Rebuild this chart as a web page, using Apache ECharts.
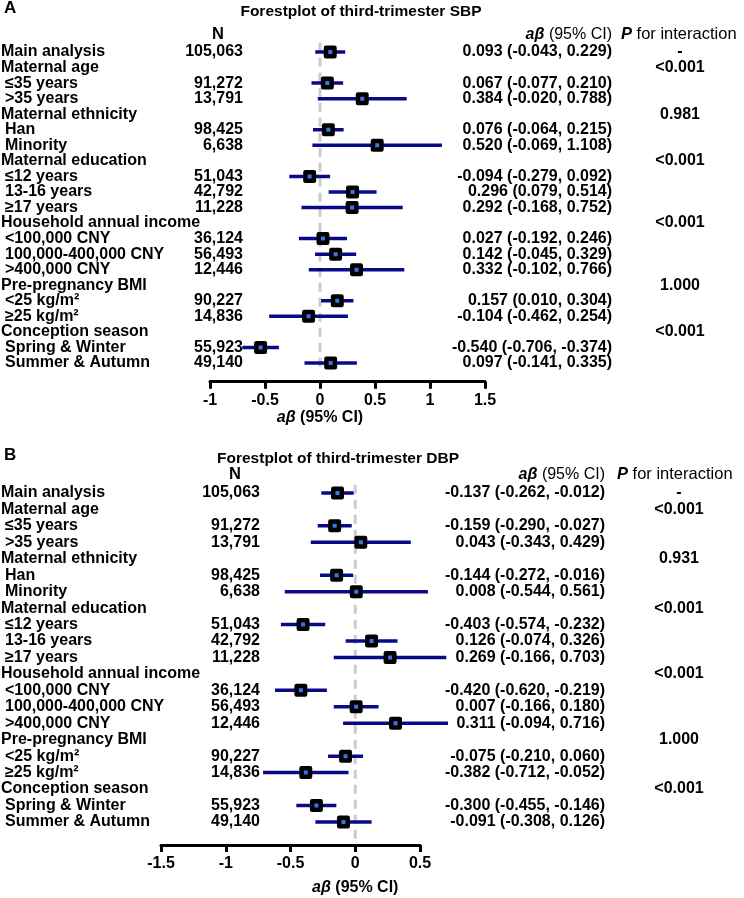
<!DOCTYPE html>
<html><head><meta charset="utf-8">
<script src="https://cdn.jsdelivr.net/npm/echarts@6/dist/echarts.min.js"></script>
<style>html,body{margin:0;padding:0;background:#fff}#c{width:744px;height:898px}</style>
</head><body><div id="c"></div>
<script>
const rowLabels = ["Main analysis","Maternal age","\u226435 years",">35 years","Maternal ethnicity","Han","Minority","Maternal education","\u226412 years","13-16 years","\u226517 years","Household annual income","<100,000 CNY","100,000-400,000 CNY",">400,000 CNY","Pre-pregnancy BMI","<25 kg/m\u00b2","\u226525 kg/m\u00b2","Conception season","Spring & Winter","Summer & Autumn"];
const rowIndent = [0,0,1,1,0,1,1,0,1,1,1,0,1,1,1,0,1,1,0,1,1];
const nCounts = ["105,063",null,"91,272","13,791",null,"98,425","6,638",null,"51,043","42,792","11,228",null,"36,124","56,493","12,446",null,"90,227","14,836",null,"55,923","49,140"];

const sbpEst  = [0.093,null,0.067,0.384,null,0.076,0.520,null,-0.094,0.296,0.292,null,0.027,0.142,0.332,null,0.157,-0.104,null,-0.540,0.097];
const sbpLow  = [-0.043,null,-0.077,-0.020,null,-0.064,-0.069,null,-0.279,0.079,-0.168,null,-0.192,-0.045,-0.102,null,0.010,-0.462,null,-0.706,-0.141];
const sbpHigh = [0.229,null,0.210,0.788,null,0.215,1.108,null,0.092,0.514,0.752,null,0.246,0.329,0.766,null,0.304,0.254,null,-0.374,0.335];
const sbpP = ["-","<0.001",null,null,"0.981",null,null,"<0.001",null,null,null,"<0.001",null,null,null,"1.000",null,null,"<0.001",null,null];
const sbpTicks = [-1,-0.5,0,0.5,1,1.5];

const dbpEst  = [-0.137,null,-0.159,0.043,null,-0.144,0.008,null,-0.403,0.126,0.269,null,-0.420,0.007,0.311,null,-0.075,-0.382,null,-0.300,-0.091];
const dbpLow  = [-0.262,null,-0.290,-0.343,null,-0.272,-0.544,null,-0.574,-0.074,-0.166,null,-0.620,-0.166,-0.094,null,-0.210,-0.712,null,-0.455,-0.308];
const dbpHigh = [-0.012,null,-0.027,0.429,null,-0.016,0.561,null,-0.232,0.326,0.703,null,-0.219,0.180,0.716,null,0.060,-0.052,null,-0.146,0.126];
const dbpP = ["-","<0.001",null,null,"0.931",null,null,"<0.001",null,null,null,"<0.001",null,null,null,"1.000",null,null,"<0.001",null,null];
const dbpTicks = [-1.5,-1,-0.5,0,0.5];

const FONT = "'Liberation Sans', Arial, Helvetica, sans-serif";
const FS = 16;
const NAVY = '#0a0a88';

const panels = [
  {est:sbpEst, low:sbpLow, high:sbpHigh, p:sbpP, ticks:sbpTicks,
   grid:{left:210, width:275, top:36.45, height:345.2}, yMax:21.2,
   nX:243, ciX:612, pX:680, nHeadX:218, pHeadX:621, headRow:-1.1, nameDy:36, zeroFrom:-0.6, zeroTo:20.6,
   title:"Forestplot of third-trimester SBP", titleX:361, titleY:12, letter:"A", letterY:8},
  {est:dbpEst, low:dbpLow, high:dbpHigh, p:dbpP, ticks:dbpTicks,
   grid:{left:161, width:259, top:476.5, height:368.5}, yMax:21.4,
   nX:260, ciX:605, pX:679, nHeadX:235, pHeadX:617, headRow:-1.1, nameDy:43, zeroFrom:-0.5, zeroTo:21.1,
   title:"Forestplot of third-trimester DBP", titleX:338, titleY:459, letter:"B", letterY:455}
];

function fmt(v){ return v.toFixed(3); }
function txt(x, y, text, align, extra){
  return {type:'text', x:x, y:y, style:Object.assign({text:text, fill:'#000', fontSize:FS, fontWeight:'bold', fontFamily:FONT, align:align, verticalAlign:'middle'}, extra||{})};
}

const grids=[], xAxes=[], yAxes=[], series=[], graphics=[];
panels.forEach((P, gi) => {
  grids.push(Object.assign({containLabel:false}, P.grid));
  xAxes.push({gridIndex:gi, type:'value', min:P.ticks[0], max:P.ticks[P.ticks.length-1], interval:P.ticks[1]-P.ticks[0],
    axisLine:{show:true, onZero:false, lineStyle:{color:'#000', width:3}},
    axisTick:{show:true, length:7, lineStyle:{color:'#000', width:3}},
    axisLabel:{color:'#000', fontSize:FS, fontWeight:'bold', fontFamily:FONT, margin:11},
    splitLine:{show:false}});
  yAxes.push({gridIndex:gi, type:'value', min:-1, max:P.yMax, inverse:true, show:false});

  // zero reference line
  series.push({type:'custom', xAxisIndex:gi, yAxisIndex:gi, silent:true, z:1,
    data:[[0, P.zeroFrom, P.zeroTo]],
    renderItem(params, api){
      const a = api.coord([api.value(0), api.value(1)]);
      const b = api.coord([api.value(0), api.value(2)]);
      return {type:'line', shape:{x1:a[0], y1:a[1], x2:b[0], y2:b[1]},
        style:{stroke:'#cccccc', lineWidth:3, lineDash:[9,6]}};
    }});
  // CI bars
  const ciData = [];
  P.est.forEach((e,i)=>{ if(e!==null) ciData.push([P.low[i], P.high[i], i]); });
  series.push({type:'custom', xAxisIndex:gi, yAxisIndex:gi, silent:true, z:2,
    data:ciData,
    renderItem(params, api){
      const a = api.coord([api.value(0), api.value(2)]);
      const b = api.coord([api.value(1), api.value(2)]);
      return {type:'line', shape:{x1:a[0], y1:a[1], x2:b[0], y2:b[1]},
        style:{stroke:NAVY, lineWidth:3.5}};
    }});
  // point estimates
  const ptData = [];
  P.est.forEach((e,i)=>{ if(e!==null) ptData.push([e, i]); });
  series.push({type:'scatter', xAxisIndex:gi, yAxisIndex:gi, silent:true, z:3,
    data:ptData, symbol:'rect', symbolSize:8.5,
    itemStyle:{color:'#3b74e8', borderColor:'#000', borderWidth:4.5, borderJoin:'round', opacity:1}});
  // text columns
  series.push({type:'custom', xAxisIndex:gi, yAxisIndex:gi, silent:true, z:4, clip:false,
    data:rowLabels.map((l,i)=>[0,i]),
    renderItem(params, api){
      const i = params.dataIndex;
      const y = api.coord([0, i])[1];
      const kids = [];
      kids.push(txt(rowIndent[i] ? 5 : 1, y, rowLabels[i], 'left'));
      if(nCounts[i] !== null){
        kids.push(txt(P.nX, y, nCounts[i], 'right'));
        kids.push(txt(P.ciX, y, fmt(P.est[i]) + ' (' + fmt(P.low[i]) + ', ' + fmt(P.high[i]) + ')', 'right'));
      }
      if(P.p[i]) kids.push(txt(P.pX, y, P.p[i], 'center'));
      if(i === 0){
        const hy = api.coord([0, P.headRow])[1];
        kids.push(txt(P.nHeadX, hy, 'N', 'center', {fontSize:16.5}));
        kids.push({type:'text', x:P.ciX, y:hy, style:{text:'{i|a\u03b2} (95% CI)', fill:'#000', fontSize:16, fontFamily:FONT, fontWeight:'normal', align:'right', verticalAlign:'middle',
          rich:{i:{fontStyle:'italic', fontWeight:'bold', fontSize:16, fontFamily:FONT, fill:'#000'}}}});
        kids.push({type:'text', x:P.pHeadX, y:hy, style:{text:'{i|P} for interaction', fill:'#000', fontSize:16.5, fontFamily:FONT, fontWeight:'normal', align:'left', verticalAlign:'middle',
          rich:{i:{fontStyle:'italic', fontWeight:'bold', fontSize:16.5, fontFamily:FONT, fill:'#000'}}}});
        const zx = api.coord([0, P.yMax])[0];
        const by = api.coord([0, P.yMax])[1] + P.nameDy;
        kids.push({type:'text', x:zx, y:by, style:{text:'{i|a\u03b2} (95% CI)', fill:'#000', fontSize:16, fontFamily:FONT, fontWeight:'bold', align:'center', verticalAlign:'middle',
          rich:{i:{fontStyle:'italic', fontWeight:'bold', fontSize:16, fontFamily:FONT, fill:'#000'}}}});
      }
      return {type:'group', children:kids};
    }});

  graphics.push({type:'text', x:P.titleX, y:P.titleY, style:{text:P.title, fill:'#000', fontSize:15.5, fontWeight:'bold', fontFamily:FONT, align:'center', verticalAlign:'middle'}});
  graphics.push({type:'text', x:4, y:P.letterY, style:{text:P.letter, fill:'#000', fontSize:17, fontWeight:'bold', fontFamily:FONT, align:'left', verticalAlign:'middle'}});
});

const chart = echarts.init(document.getElementById('c'), null, {renderer:'canvas'});
chart.setOption({
  animation:false,
  backgroundColor:'#fff',
  grid:grids, xAxis:xAxes, yAxis:yAxes, series:series, graphic:graphics
});
</script>
</body></html>
